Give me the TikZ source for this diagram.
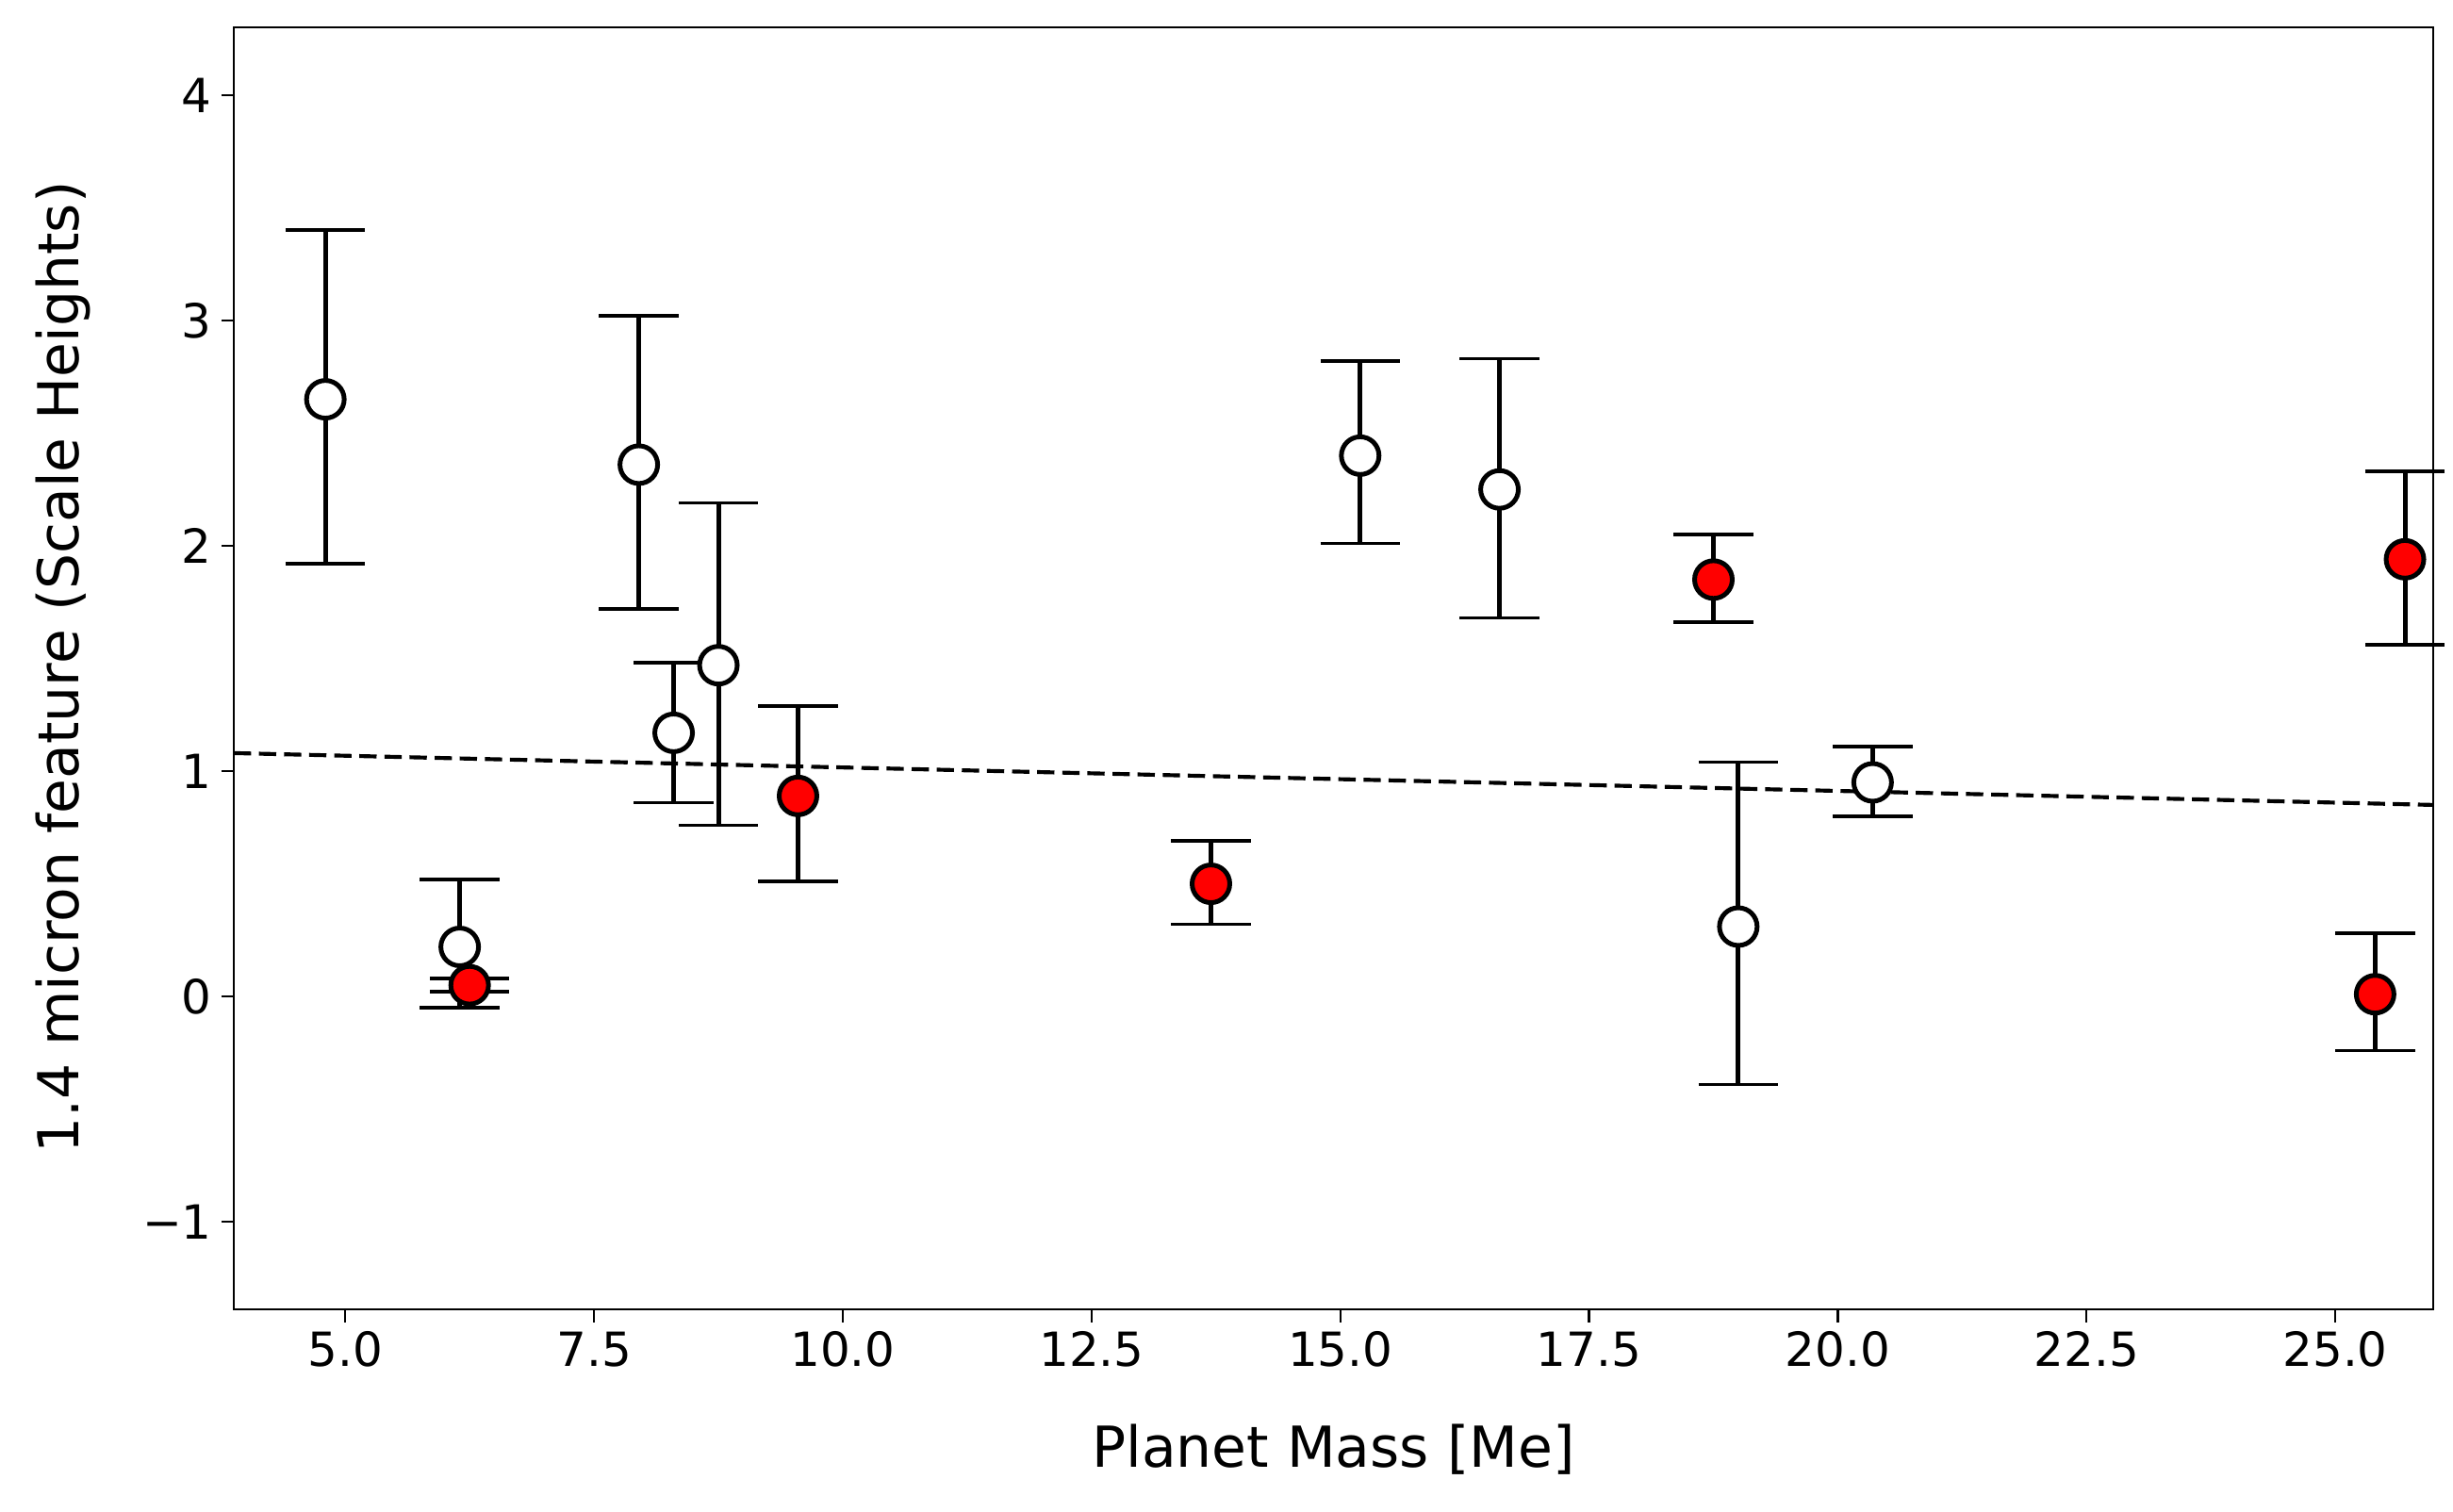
\documentclass[tikz,border=0pt]{standalone}
\usepackage{fontspec}
\setmainfont{DejaVu Sans}
\usetikzlibrary{positioning}
\begin{document}
\begin{tikzpicture}[ x = 63.4pt
                   , y = 143.6pt
                   , font = \fontsize{30}{36}\selectfont
                   , bar/.style = {line width = 3pt}
                   , opendot/.style = {circle, draw = black, fill = white, line width = 3pt, minimum size = 24pt, inner sep = 0pt}
                   , reddot/.style = {opendot, fill = red}
                   ]
  \useasboundingbox (1.530,-2.284) rectangle (26.183,4.422);

  %%
  %% Axes
  %%
  \draw[line width = 1.3pt] (3.88,-1.39) rectangle (25.98,4.30);
  \foreach \xv/\xl in {5/5.0, 7.5/7.5, 10/10.0, 12.5/12.5, 15/15.0, 17.5/17.5, 20/20.0, 22.5/22.5, 25/25.0} {
    \draw[line width = 1.3pt] (\xv,-1.39) -- ++(0,-8pt) node[below = 2pt] {\xl};
  }
  \foreach \yv/\yl in {-1/−1, 0/0, 1/1, 2/2, 3/3, 4/4} {
    \draw[line width = 1.3pt] (3.88,\yv) -- ++(-8pt,0) node[left = 2pt] {\yl};
  }
  \node (xlab) [font = \fontsize{36}{43}\selectfont] at (14.93,-2.01) {Planet Mass [Me]};
  \node (ylab) [font = \fontsize{36}{43}\selectfont, rotate = 90] at (2.16,1.46) {1.4 micron feature (Scale Heights)};

  % Trend line.
  \draw[line width = 2.5pt, dash pattern = on 11pt off 5pt] (3.88,1.08) -- (25.98,0.85);

  %%
  %% Error bars and points
  %%
  \foreach \px/\py/\lo/\hi/\st [count = \i] in {4.8/2.65/1.92/3.40/opendot,
      6.15/0.22/-0.05/0.52/opendot,
      7.95/2.36/1.72/3.02/opendot,
      8.3/1.17/0.86/1.48/opendot,
      8.75/1.47/0.76/2.19/opendot,
      15.2/2.40/2.01/2.82/opendot,
      16.6/2.25/1.68/2.83/opendot,
      19.0/0.31/-0.39/1.04/opendot,
      20.35/0.95/0.80/1.11/opendot,
      6.25/0.05/0.02/0.08/reddot,
      9.55/0.89/0.51/1.29/reddot,
      13.7/0.50/0.32/0.69/reddot,
      18.75/1.85/1.66/2.05/reddot,
      25.4/0.01/-0.24/0.28/reddot,
      25.7/1.94/1.56/2.33/reddot} {
    \draw[bar] (\px,\lo) -- (\px,\hi);
    \draw[line width = 2.2pt] (\px,\lo) ++(-0.4,0) -- ++(0.8,0);
    \draw[line width = 2.2pt] (\px,\hi) ++(-0.4,0) -- ++(0.8,0);
    \node (pt\i) [\st] at (\px,\py) {};
  }
\end{tikzpicture}
\end{document}
